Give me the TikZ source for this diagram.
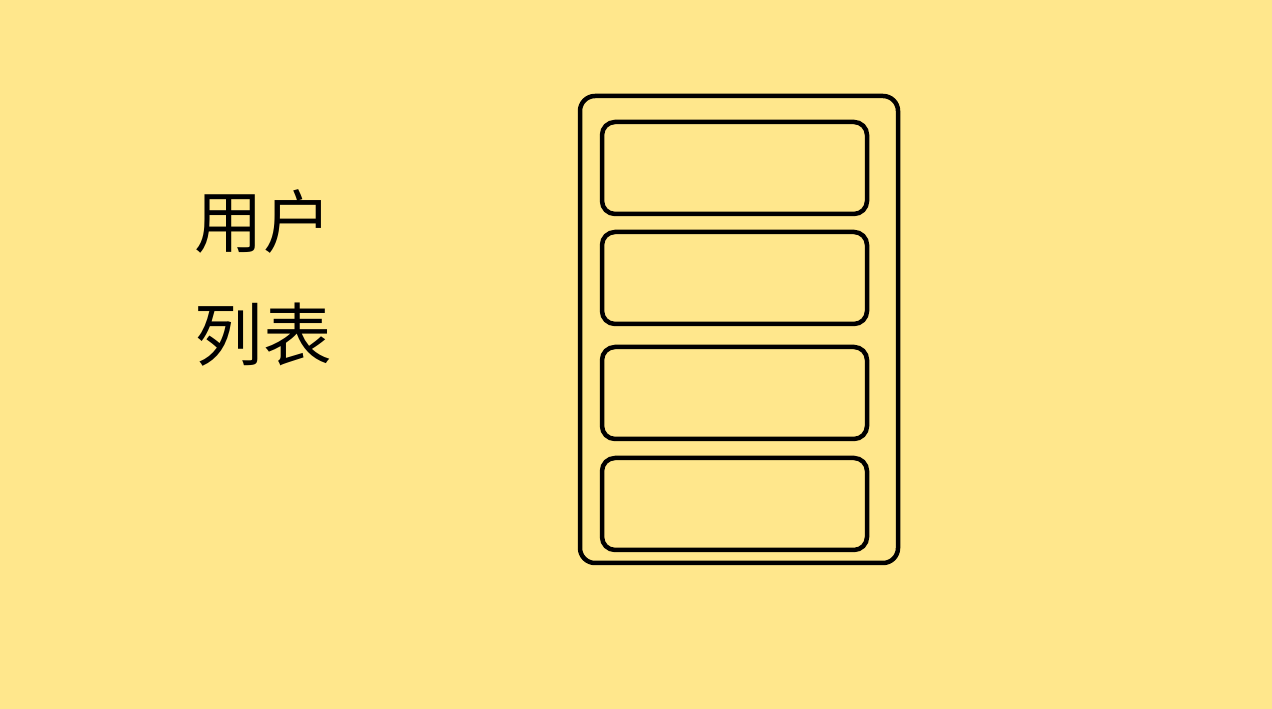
\documentclass[tikz,border=0pt]{standalone}
\usepackage{fontspec}
\newfontfamily\cjk{Noto Sans CJK SC}
\usetikzlibrary{positioning}
\definecolor{bgyellow}{RGB}{255,231,140}

\begin{document}
\begin{tikzpicture}[
  panel/.style={draw, line width=0.09cm, rounded corners=0.3cm, inner sep=0pt, minimum width=6.36cm, minimum height=9.34cm},
  row/.style={draw, line width=0.09cm, rounded corners=0.26cm, inner sep=0pt, minimum width=5.3cm, minimum height=1.84cm},
  title/.style={font=\cjk\fontsize{39}{64}\selectfont, align=left, inner sep=0pt}
]
\fill[bgyellow] (0,0) rectangle (25.44,14.18);
\useasboundingbox (0,0) rectangle (25.44,14.18);
\node[title] (label) at (5.26,8.62) {用户\\列表};
\node[panel] (frame) at (14.78,7.59) {};
\node[row] (item1) at (14.69,10.82) {};
\node[row] (item2) at (14.69,8.62) {};
\node[row] (item3) at (14.69,6.32) {};
\node[row] (item4) at (14.69,4.10) {};
\end{tikzpicture}
\end{document}
